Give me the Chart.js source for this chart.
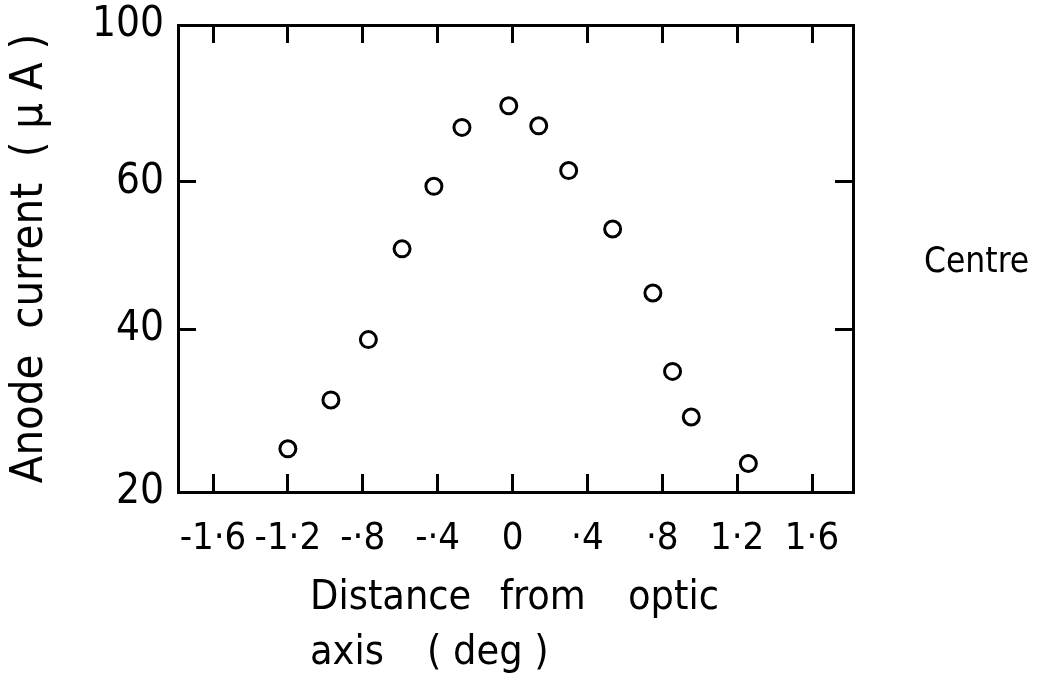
<!DOCTYPE html>
<html>
<head>
<meta charset="utf-8">
<script src="https://cdn.jsdelivr.net/npm/chart.js@4/dist/chart.umd.min.js"></script>
<style>
  html, body { margin: 0; padding: 0; background: #fff; }
  #wrap { width: 1037px; height: 684px; }
</style>
</head>
<body>
<div id="wrap"><canvas id="chart"></canvas></div>
<script>
const distanceDeg = [-1.2, -0.97, -0.77, -0.59, -0.42, -0.27, -0.02, 0.14, 0.30, 0.535, 0.75, 0.855, 0.955, 1.26];
const anodeCurrent = [25.3, 31.3, 38.7, 50.9, 59.4, 73.9, 79.4, 74.3, 62.9, 53.6, 44.9, 34.8, 29.2, 23.5];

const xTicks = [-1.6, -1.2, -0.8, -0.4, 0, 0.4, 0.8, 1.2, 1.6];
const xTickLabels = ['-1·6', '-1·2', '-·8', '-·4', '0', '·4', '·8', '1·2', '1·6'];
const yTicks = [20, 40, 60, 100];
const yTickLabels = ['20', '40', '60', '100'];

const FONT = "'Liberation Sans Narrow', 'DejaVu Sans Condensed', sans-serif";
const INK = '#000';

// 원본 축 눈금 간격이 고르지 않아서 구간별 선형 스케일 사용
const yBreakFrac = [0, 0.349, 0.664, 1];

function valueToFrac(v) {
    for (let i = 0; i < yTicks.length - 1; i++) {
        const a = yTicks[i], b = yTicks[i + 1];
        if (v <= b || i === yTicks.length - 2) {
            return yBreakFrac[i] + (v - a) / (b - a) * (yBreakFrac[i + 1] - yBreakFrac[i]);
        }
    }
    return 0;
}

function fracToValue(f) {
    for (let i = 0; i < yBreakFrac.length - 1; i++) {
        const a = yBreakFrac[i], b = yBreakFrac[i + 1];
        if (f <= b || i === yBreakFrac.length - 2) {
            return yTicks[i] + (f - a) / (b - a) * (yTicks[i + 1] - yTicks[i]);
        }
    }
    return yTicks[0];
}

class BrokenLinearScale extends Chart.LinearScale {
    getPixelForValue(value) {
        return this.getPixelForDecimal(valueToFrac(value));
    }
    getValueForPixel(pixel) {
        return fracToValue(this.getDecimalForPixel(pixel));
    }
}
BrokenLinearScale.id = 'brokenLinear';
BrokenLinearScale.defaults = Chart.LinearScale.defaults;
Chart.register(BrokenLinearScale);

const inwardGrid = {
    drawOnChartArea: false,
    drawTicks: true,
    tickLength: -18,
    tickWidth: 3,
    tickColor: INK
};
const frame = { display: true, color: INK, width: 3 };

// 스케일이 라벨 때문에 여백을 더 잡지 않도록
function fixSize(prop, size) {
    return s => {
        s[prop] = size;
        s.paddingTop = 0;
        s.paddingBottom = 0;
        s.paddingLeft = 0;
        s.paddingRight = 0;
    };
}

// 축 제목(아래)과 오른쪽 'Centre' 글자
const textPlugin = {
    id: 'sideText',
    afterDraw(chart) {
        const ctx = chart.ctx;
        ctx.save();
        ctx.fillStyle = INK;
        ctx.font = `41px ${FONT}`;
        ctx.textAlign = 'left';
        ctx.textBaseline = 'alphabetic';
        ctx.fillText('Distance', 310, 609);
        ctx.fillText('from', 500, 609);
        ctx.fillText('optic', 628, 609);
        ctx.fillText('axis', 310, 664);
        ctx.fillText('( deg )', 427, 664);
        ctx.font = `35px ${FONT}`;
        ctx.fillText('Centre', 924, 272);
        ctx.restore();
    }
};

new Chart(document.getElementById('chart'), {
    type: 'scatter',
    data: {
        datasets: [{
            data: distanceDeg.map((x, i) => ({ x, y: anodeCurrent[i] })),
            pointStyle: 'circle',
            pointRadius: 8,
            pointBorderWidth: 3,
            pointBorderColor: INK,
            pointBackgroundColor: 'rgba(255,255,255,0)',
            showLine: false
        }]
    },
    options: {
        responsive: true,
        maintainAspectRatio: false,
        animation: false,
        layout: { padding: { left: 0, right: 184, top: 25, bottom: 0 } },
        scales: {
            x: {
                type: 'linear',
                position: 'bottom',
                min: -1.787,
                max: 1.819,
                afterBuildTicks: s => { s.ticks = xTicks.map(v => ({ value: v })); },
                afterFit: fixSize('height', 192),
                grid: inwardGrid,
                border: frame,
                ticks: {
                    padding: 42,
                    color: INK,
                    maxRotation: 0,
                    autoSkip: false,
                    font: { family: FONT, size: 38 },
                    callback: v => xTickLabels[xTicks.indexOf(v)]
                }
            },
            xTop: {
                type: 'linear',
                position: 'top',
                min: -1.787,
                max: 1.819,
                afterBuildTicks: s => { s.ticks = xTicks.map(v => ({ value: v })); },
                afterFit: fixSize('height', 0),
                grid: inwardGrid,
                border: frame,
                ticks: { display: false }
            },
            y: {
                type: 'brokenLinear',
                position: 'left',
                min: 20,
                max: 100,
                afterBuildTicks: s => { s.ticks = yTicks.map(v => ({ value: v })); },
                afterFit: fixSize('width', 178),
                grid: inwardGrid,
                border: frame,
                ticks: {
                    padding: 32,
                    color: INK,
                    font: { family: FONT, size: 42 },
                    callback: v => yTickLabels[yTicks.indexOf(v)]
                },
                title: {
                    display: true,
                    text: 'Anode  current  ( µ A )',
                    color: INK,
                    font: { family: FONT, size: 45 },
                    padding: { top: 3, bottom: 0 }
                }
            },
            yRight: {
                type: 'brokenLinear',
                position: 'right',
                min: 20,
                max: 100,
                afterBuildTicks: s => { s.ticks = yTicks.map(v => ({ value: v })); },
                afterFit: fixSize('width', 0),
                grid: inwardGrid,
                border: frame,
                ticks: { display: false }
            }
        },
        plugins: {
            legend: { display: false },
            tooltip: { enabled: false }
        }
    },
    plugins: [textPlugin]
});
</script>
</body>
</html>
